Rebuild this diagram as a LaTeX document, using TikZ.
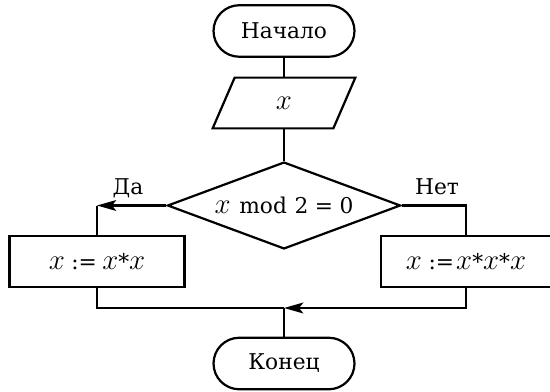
\RequirePackage{fix-cm}
\documentclass[tikz,border=0pt]{standalone}
\usepackage{fontspec}
\setmainfont{DejaVu Serif}
\usetikzlibrary{shapes.geometric,arrows.meta,calc}
\newcommand{\xv}{{\fontsize{15}{17}\selectfont$x$}}
\begin{document}
\begin{tikzpicture}[x=0.52pt,y=-0.52pt,
  every node/.style={font=\fontsize{11.3}{13}\selectfont},
  line/.style={line width=1.15pt},
  term/.style={draw,line width=1.15pt,rounded corners=13.4pt,minimum width=73.3pt,minimum height=26.8pt,inner sep=0pt},
  proc/.style={draw,line width=1.15pt,minimum height=26.5pt,inner sep=0pt},
  decision/.style={draw,diamond,line width=1.15pt,aspect=2.68,minimum width=121.2pt,minimum height=45.2pt,inner sep=0pt},
  io/.style={minimum width=73.8pt,minimum height=26pt,inner sep=0pt},
  lab/.style={inner sep=0pt},
  arr/.style={-{Stealth[length=10pt,width=5.6pt,inset=2.2pt]}}
]
\useasboundingbox (0,0) rectangle (550,391);
\node[term] (start) at (284,31) {Начало};
\node[io] (inp) at (284,103) {\xv};
\draw[line] (inp.south west) -- ($(inp.north west)+(22,0)$) -- (inp.north east) -- ($(inp.south east)+(-22,0)$) -- cycle;
\node[decision] (dec) at (284,205.5) {\xv\hspace{0.4em}mod\hspace{0.35em}2\hspace{0.3em}=\hspace{0.3em}0};
\node[proc,minimum width=91pt] (yes) at (97,261.5) {\xv\hspace{0.3em}:=\hspace{0.25em}\xv*\xv};
\node[proc,minimum width=88.4pt] (no) at (466,261.5) {\xv\hspace{0.3em}:=\hspace{0.1em}\xv*\xv*\xv};
\node[term] (end) at (284,363.5) {Конец};
\node[lab] (da) at (128,188) {Да};
\node[lab] (net) at (437,187) {Нет};
\coordinate (cl) at (yes.north |- dec.west);
\coordinate (cr) at (no.north |- dec.east);
\coordinate (join) at (end.north |- 0,308);
\draw[line] (start.south) -- (inp.north);
\draw[line] (inp.south) -- (dec.north);
\draw[line,arr] (dec.west) -- (cl);
\draw[line] (cl) -- (yes.north);
\draw[line] (dec.east) -- (cr) -- (no.north);
\draw[line] (yes.south) |- (join);
\draw[line width=1.4pt,arr] (no.south) |- (join);
\draw[line] (join) -- (end.north);
\end{tikzpicture}
\end{document}
